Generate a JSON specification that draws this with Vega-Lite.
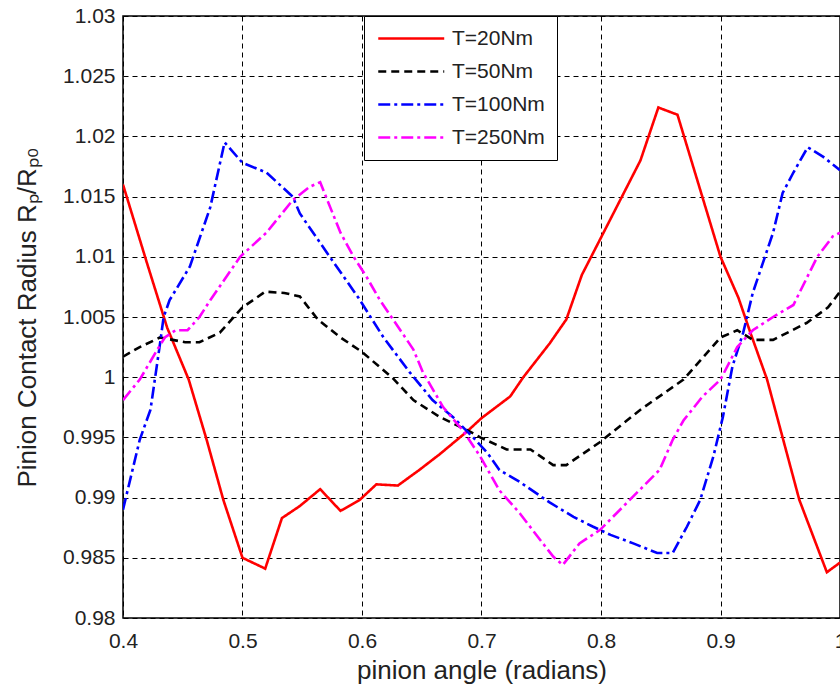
{
  "$schema": "https://vega.github.io/schema/vega-lite/v6.json",
  "width": 717,
  "height": 602,
  "padding": {"left": 123, "top": 16, "right": 0, "bottom": 74},
  "autosize": {"type": "none"},
  "background": "white",
  "config": {
    "font": "Liberation Sans",
    "view": {"stroke": "black", "strokeWidth": 1.5},
    "axis": {
      "grid": true, "gridColor": "black", "gridDash": [5, 4], "gridOpacity": 1, "gridWidth": 1,
      "domain": false, "ticks": false, "labelFlush": false,
      "labelFont": "Liberation Sans", "labelFontSize": 21, "labelColor": "#222",
      "titleFont": "Liberation Sans", "titleFontSize": 26, "titleFontWeight": "normal", "titleColor": "#222"
    }
  },
  "data": {"values": [
    {"x": 0.4, "y": 1.016, "T": "T=20Nm"},
    {"x": 0.42, "y": 1.0095, "T": "T=20Nm"},
    {"x": 0.437, "y": 1.0041, "T": "T=20Nm"},
    {"x": 0.455, "y": 0.9998, "T": "T=20Nm"},
    {"x": 0.47, "y": 0.9948, "T": "T=20Nm"},
    {"x": 0.484, "y": 0.9898, "T": "T=20Nm"},
    {"x": 0.5, "y": 0.985, "T": "T=20Nm"},
    {"x": 0.519, "y": 0.9841, "T": "T=20Nm"},
    {"x": 0.533, "y": 0.9883, "T": "T=20Nm"},
    {"x": 0.548, "y": 0.9893, "T": "T=20Nm"},
    {"x": 0.565, "y": 0.9907, "T": "T=20Nm"},
    {"x": 0.582, "y": 0.9889, "T": "T=20Nm"},
    {"x": 0.598, "y": 0.9898, "T": "T=20Nm"},
    {"x": 0.612, "y": 0.9911, "T": "T=20Nm"},
    {"x": 0.63, "y": 0.991, "T": "T=20Nm"},
    {"x": 0.648, "y": 0.9923, "T": "T=20Nm"},
    {"x": 0.665, "y": 0.9936, "T": "T=20Nm"},
    {"x": 0.688, "y": 0.9955, "T": "T=20Nm"},
    {"x": 0.7, "y": 0.9966, "T": "T=20Nm"},
    {"x": 0.724, "y": 0.9984, "T": "T=20Nm"},
    {"x": 0.735, "y": 1.0, "T": "T=20Nm"},
    {"x": 0.757, "y": 1.0028, "T": "T=20Nm"},
    {"x": 0.771, "y": 1.0048, "T": "T=20Nm"},
    {"x": 0.784, "y": 1.0085, "T": "T=20Nm"},
    {"x": 0.799, "y": 1.0114, "T": "T=20Nm"},
    {"x": 0.833, "y": 1.018, "T": "T=20Nm"},
    {"x": 0.848, "y": 1.0224, "T": "T=20Nm"},
    {"x": 0.864, "y": 1.0218, "T": "T=20Nm"},
    {"x": 0.9, "y": 1.01, "T": "T=20Nm"},
    {"x": 0.915, "y": 1.0066, "T": "T=20Nm"},
    {"x": 0.925, "y": 1.0037, "T": "T=20Nm"},
    {"x": 0.939, "y": 0.9998, "T": "T=20Nm"},
    {"x": 0.966, "y": 0.9898, "T": "T=20Nm"},
    {"x": 0.989, "y": 0.9838, "T": "T=20Nm"},
    {"x": 1.0, "y": 0.9846, "T": "T=20Nm"},

    {"x": 0.4, "y": 1.0017, "T": "T=50Nm"},
    {"x": 0.414, "y": 1.0025, "T": "T=50Nm"},
    {"x": 0.431, "y": 1.0033, "T": "T=50Nm"},
    {"x": 0.452, "y": 1.0029, "T": "T=50Nm"},
    {"x": 0.464, "y": 1.0029, "T": "T=50Nm"},
    {"x": 0.481, "y": 1.0037, "T": "T=50Nm"},
    {"x": 0.5, "y": 1.0058, "T": "T=50Nm"},
    {"x": 0.519, "y": 1.0071, "T": "T=50Nm"},
    {"x": 0.535, "y": 1.007, "T": "T=50Nm"},
    {"x": 0.548, "y": 1.0067, "T": "T=50Nm"},
    {"x": 0.563, "y": 1.0048, "T": "T=50Nm"},
    {"x": 0.582, "y": 1.0033, "T": "T=50Nm"},
    {"x": 0.6, "y": 1.0021, "T": "T=50Nm"},
    {"x": 0.626, "y": 0.9999, "T": "T=50Nm"},
    {"x": 0.643, "y": 0.9981, "T": "T=50Nm"},
    {"x": 0.665, "y": 0.9967, "T": "T=50Nm"},
    {"x": 0.69, "y": 0.9955, "T": "T=50Nm"},
    {"x": 0.699, "y": 0.995, "T": "T=50Nm"},
    {"x": 0.721, "y": 0.994, "T": "T=50Nm"},
    {"x": 0.741, "y": 0.994, "T": "T=50Nm"},
    {"x": 0.76, "y": 0.9927, "T": "T=50Nm"},
    {"x": 0.771, "y": 0.9927, "T": "T=50Nm"},
    {"x": 0.799, "y": 0.9946, "T": "T=50Nm"},
    {"x": 0.833, "y": 0.9973, "T": "T=50Nm"},
    {"x": 0.869, "y": 0.9998, "T": "T=50Nm"},
    {"x": 0.9, "y": 1.0033, "T": "T=50Nm"},
    {"x": 0.914, "y": 1.0039, "T": "T=50Nm"},
    {"x": 0.927, "y": 1.0031, "T": "T=50Nm"},
    {"x": 0.944, "y": 1.0031, "T": "T=50Nm"},
    {"x": 0.972, "y": 1.0045, "T": "T=50Nm"},
    {"x": 0.99, "y": 1.0058, "T": "T=50Nm"},
    {"x": 1.0, "y": 1.0071, "T": "T=50Nm"},

    {"x": 0.4, "y": 0.989, "T": "T=100Nm"},
    {"x": 0.414, "y": 0.9948, "T": "T=100Nm"},
    {"x": 0.423, "y": 0.9973, "T": "T=100Nm"},
    {"x": 0.431, "y": 1.0028, "T": "T=100Nm"},
    {"x": 0.434, "y": 1.005, "T": "T=100Nm"},
    {"x": 0.439, "y": 1.0064, "T": "T=100Nm"},
    {"x": 0.456, "y": 1.0092, "T": "T=100Nm"},
    {"x": 0.473, "y": 1.0141, "T": "T=100Nm"},
    {"x": 0.485, "y": 1.0195, "T": "T=100Nm"},
    {"x": 0.5, "y": 1.0178, "T": "T=100Nm"},
    {"x": 0.52, "y": 1.017, "T": "T=100Nm"},
    {"x": 0.542, "y": 1.015, "T": "T=100Nm"},
    {"x": 0.548, "y": 1.0136, "T": "T=100Nm"},
    {"x": 0.573, "y": 1.01, "T": "T=100Nm"},
    {"x": 0.597, "y": 1.0066, "T": "T=100Nm"},
    {"x": 0.618, "y": 1.0033, "T": "T=100Nm"},
    {"x": 0.64, "y": 1.0004, "T": "T=100Nm"},
    {"x": 0.659, "y": 0.9981, "T": "T=100Nm"},
    {"x": 0.676, "y": 0.9967, "T": "T=100Nm"},
    {"x": 0.693, "y": 0.995, "T": "T=100Nm"},
    {"x": 0.705, "y": 0.9937, "T": "T=100Nm"},
    {"x": 0.715, "y": 0.9923, "T": "T=100Nm"},
    {"x": 0.732, "y": 0.9913, "T": "T=100Nm"},
    {"x": 0.757, "y": 0.9896, "T": "T=100Nm"},
    {"x": 0.777, "y": 0.9884, "T": "T=100Nm"},
    {"x": 0.793, "y": 0.9876, "T": "T=100Nm"},
    {"x": 0.808, "y": 0.9869, "T": "T=100Nm"},
    {"x": 0.827, "y": 0.9862, "T": "T=100Nm"},
    {"x": 0.847, "y": 0.9854, "T": "T=100Nm"},
    {"x": 0.86, "y": 0.9854, "T": "T=100Nm"},
    {"x": 0.872, "y": 0.9876, "T": "T=100Nm"},
    {"x": 0.883, "y": 0.9898, "T": "T=100Nm"},
    {"x": 0.894, "y": 0.9934, "T": "T=100Nm"},
    {"x": 0.902, "y": 0.9967, "T": "T=100Nm"},
    {"x": 0.91, "y": 1.0009, "T": "T=100Nm"},
    {"x": 0.919, "y": 1.0037, "T": "T=100Nm"},
    {"x": 0.927, "y": 1.007, "T": "T=100Nm"},
    {"x": 0.944, "y": 1.012, "T": "T=100Nm"},
    {"x": 0.952, "y": 1.0153, "T": "T=100Nm"},
    {"x": 0.961, "y": 1.017, "T": "T=100Nm"},
    {"x": 0.973, "y": 1.0191, "T": "T=100Nm"},
    {"x": 0.986, "y": 1.0183, "T": "T=100Nm"},
    {"x": 1.0, "y": 1.0172, "T": "T=100Nm"},

    {"x": 0.4, "y": 0.9981, "T": "T=250Nm"},
    {"x": 0.414, "y": 0.9998, "T": "T=250Nm"},
    {"x": 0.427, "y": 1.002, "T": "T=250Nm"},
    {"x": 0.435, "y": 1.0033, "T": "T=250Nm"},
    {"x": 0.444, "y": 1.0039, "T": "T=250Nm"},
    {"x": 0.454, "y": 1.0039, "T": "T=250Nm"},
    {"x": 0.464, "y": 1.005, "T": "T=250Nm"},
    {"x": 0.473, "y": 1.0064, "T": "T=250Nm"},
    {"x": 0.498, "y": 1.01, "T": "T=250Nm"},
    {"x": 0.52, "y": 1.012, "T": "T=250Nm"},
    {"x": 0.542, "y": 1.0147, "T": "T=250Nm"},
    {"x": 0.556, "y": 1.0158, "T": "T=250Nm"},
    {"x": 0.565, "y": 1.0162, "T": "T=250Nm"},
    {"x": 0.571, "y": 1.0147, "T": "T=250Nm"},
    {"x": 0.582, "y": 1.012, "T": "T=250Nm"},
    {"x": 0.593, "y": 1.01, "T": "T=250Nm"},
    {"x": 0.604, "y": 1.0083, "T": "T=250Nm"},
    {"x": 0.615, "y": 1.0064, "T": "T=250Nm"},
    {"x": 0.643, "y": 1.0023, "T": "T=250Nm"},
    {"x": 0.651, "y": 1.0004, "T": "T=250Nm"},
    {"x": 0.668, "y": 0.9975, "T": "T=250Nm"},
    {"x": 0.685, "y": 0.9955, "T": "T=250Nm"},
    {"x": 0.699, "y": 0.9934, "T": "T=250Nm"},
    {"x": 0.715, "y": 0.9906, "T": "T=250Nm"},
    {"x": 0.732, "y": 0.9887, "T": "T=250Nm"},
    {"x": 0.749, "y": 0.9865, "T": "T=250Nm"},
    {"x": 0.76, "y": 0.9851, "T": "T=250Nm"},
    {"x": 0.768, "y": 0.9844, "T": "T=250Nm"},
    {"x": 0.782, "y": 0.9862, "T": "T=250Nm"},
    {"x": 0.799, "y": 0.9873, "T": "T=250Nm"},
    {"x": 0.822, "y": 0.9896, "T": "T=250Nm"},
    {"x": 0.849, "y": 0.9923, "T": "T=250Nm"},
    {"x": 0.86, "y": 0.9948, "T": "T=250Nm"},
    {"x": 0.869, "y": 0.9964, "T": "T=250Nm"},
    {"x": 0.885, "y": 0.9984, "T": "T=250Nm"},
    {"x": 0.9, "y": 0.9998, "T": "T=250Nm"},
    {"x": 0.914, "y": 1.0025, "T": "T=250Nm"},
    {"x": 0.927, "y": 1.0039, "T": "T=250Nm"},
    {"x": 0.944, "y": 1.005, "T": "T=250Nm"},
    {"x": 0.961, "y": 1.006, "T": "T=250Nm"},
    {"x": 0.967, "y": 1.0072, "T": "T=250Nm"},
    {"x": 0.981, "y": 1.01, "T": "T=250Nm"},
    {"x": 0.994, "y": 1.0117, "T": "T=250Nm"},
    {"x": 1.0, "y": 1.012, "T": "T=250Nm"}
  ]},
  "mark": {"type": "line", "clip": true},
  "encoding": {
    "x": {
      "field": "x", "type": "quantitative",
      "scale": {"domain": [0.4, 1.0], "nice": false, "zero": false},
      "axis": {"values": [0.4, 0.5, 0.6, 0.7, 0.8, 0.9, 1.0], "format": ".1~f", "title": "pinion angle (radians)", "labelPadding": 12, "titlePadding": 6}
    },
    "y": {
      "field": "y", "type": "quantitative",
      "scale": {"domain": [0.98, 1.03], "nice": false, "zero": false},
      "axis": {"values": [0.98, 0.985, 0.99, 0.995, 1.0, 1.005, 1.01, 1.015, 1.02, 1.025, 1.03], "format": ".3~f", "title": "Pinion Contact Radius  Rₚ/Rₚ₀", "labelPadding": 8, "titleX": -96, "titleBaseline": "middle"}
    },
    "color": {
      "field": "T", "type": "nominal", "sort": ["T=20Nm", "T=50Nm", "T=100Nm", "T=250Nm"],
      "scale": {"domain": ["T=20Nm", "T=50Nm", "T=100Nm", "T=250Nm"], "range": ["#ff0000", "#000000", "#0000ff", "#ff00ff"]},
      "legend": {
        "title": null, "orient": "none", "legendX": 241, "legendY": 0,
        "strokeColor": "black", "fillColor": "white", "padding": 12,
        "labelFontSize": 21, "labelFont": "Liberation Sans", "labelColor": "#222",
        "symbolType": "M-1,0H7", "symbolSize": 272, "symbolStrokeWidth": 2.5,
        "rowPadding": 11, "labelOffset": 55
      }
    },
    "strokeDash": {
      "field": "T", "type": "nominal", "sort": ["T=20Nm", "T=50Nm", "T=100Nm", "T=250Nm"],
      "scale": {"domain": ["T=20Nm", "T=50Nm", "T=100Nm", "T=250Nm"], "range": [[1, 0], [8, 5], [12, 4, 3, 4], [12, 4, 3, 4]]},
      "legend": {"title": null}
    },
    "strokeWidth": {
      "field": "T", "type": "nominal", "sort": ["T=20Nm", "T=50Nm", "T=100Nm", "T=250Nm"],
      "scale": {"domain": ["T=20Nm", "T=50Nm", "T=100Nm", "T=250Nm"], "range": [2.6, 2.6, 2.6, 1.6]},
      "legend": null
    }
  }
}
